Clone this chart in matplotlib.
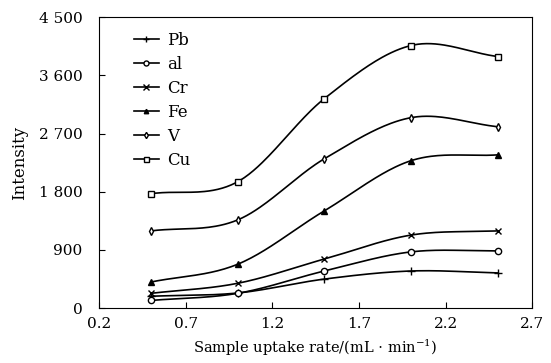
import numpy as np
import matplotlib
matplotlib.use('Agg')
import matplotlib.pyplot as plt
from matplotlib.ticker import FuncFormatter

plt.rcParams['font.family'] = ['DejaVu Serif']
plt.rcParams['mathtext.fontset'] = 'dejavuserif'

rate = [0.5, 1.0, 1.5, 2.0, 2.5]
elements = ['Pb', 'al', 'Cr', 'Fe', 'V', 'Cu']
pb = [185, 235, 450, 575, 545]
al = [120, 230, 575, 870, 885]
cr = [230, 385, 760, 1130, 1195]
fe = [405, 680, 1505, 2280, 2370]
v = [1195, 1365, 2310, 2945, 2805]
cu = [1770, 1955, 3240, 4060, 3890]
xticks = [0.2, 0.7, 1.2, 1.7, 2.2, 2.7]
yticks = [0, 900, 1800, 2700, 3600, 4500]


def smooth(x, y, n=40):
    # catmull-rom style hermite curve through the points, only for drawing
    x = np.asarray(x, float)
    y = np.asarray(y, float)
    m = np.gradient(y, x)
    xs_all, ys_all = [], []
    for i in range(len(x) - 1):
        h = x[i + 1] - x[i]
        t = np.linspace(0, 1, n)
        h00 = 2 * t ** 3 - 3 * t ** 2 + 1
        h10 = t ** 3 - 2 * t ** 2 + t
        h01 = -2 * t ** 3 + 3 * t ** 2
        h11 = t ** 3 - t ** 2
        xs_all.append(x[i] + t * h)
        ys_all.append(h00 * y[i] + h10 * h * m[i] + h01 * y[i + 1] + h11 * h * m[i + 1])
    return np.concatenate(xs_all), np.concatenate(ys_all)


fig = plt.figure(figsize=(5.51, 3.63), dpi=100)
ax = fig.add_axes([0.18, 0.151, 0.786, 0.802])

styles = [('+', 'k', 6), ('o', 'white', 4.5), ('x', 'k', 5), ('^', 'k', 4), ('d', 'white', 4), ('s', 'white', 4.5)]
for name, vals, (m, fc, ms) in zip(elements, [pb, al, cr, fe, v, cu], styles):
    xs, ys = smooth(rate, vals)
    ax.plot(xs, ys, color='k', lw=1.2)
    ax.plot(rate, vals, ls='none', marker=m, mfc=fc, mec='k', ms=ms, mew=1)
    ax.plot([], [], color='k', lw=1.2, marker=m, mfc=fc, mec='k', ms=ms * 0.8, mew=1, label=name)

ax.set_xlim(0.2, 2.7)
ax.set_ylim(0, 4500)
ax.set_xticks(xticks)
ax.set_yticks(yticks)
ax.yaxis.set_major_formatter(FuncFormatter(lambda val, p: f'{int(val):,}'.replace(',', ' ')))
ax.tick_params(direction='in', length=4, labelsize=11)
ax.tick_params(axis='x', pad=6)
ax.tick_params(axis='y', pad=12)
ax.set_xlabel(r'Sample uptake rate/(mL $\cdot$ min$^{-1}$)', fontsize=10.5, labelpad=5)
ax.set_ylabel('Intensity', fontsize=12, labelpad=8)
ax.legend(loc='upper left', bbox_to_anchor=(0.045, 1.0), frameon=False, fontsize=12, handlelength=1.5,
          labelspacing=0.42, borderaxespad=0.6, borderpad=0.3, handletextpad=0.5)

fig.savefig('out.png', dpi=100)
